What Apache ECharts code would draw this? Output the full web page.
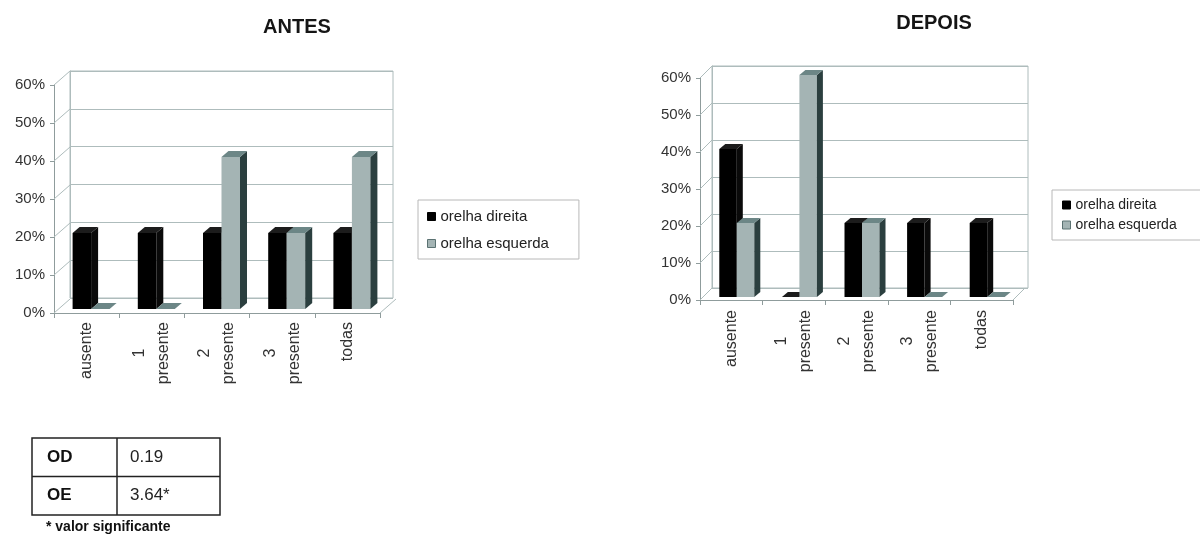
<!DOCTYPE html>
<html>
<head>
<meta charset="utf-8">
<script src="https://cdn.jsdelivr.net/npm/echarts@6/dist/echarts.min.js"></script>
<style>
  html, body { margin: 0; padding: 0; background: #ffffff; }
  #chart { width: 1200px; height: 534px; }
</style>
</head>
<body>
<div id="chart"></div>
<script>
// ---- data ----
const categories = ['ausente', '1\npresente', '2\npresente', '3\npresente', 'todas'];
const antesDireita = [20, 20, 20, 20, 20];
const antesEsquerda = [0, 0, 40, 20, 40];
const depoisDireita = [40, 0, 20, 20, 20];
const depoisEsquerda = [20, 60, 20, 0, 0];
const yTicks = [0, 10, 20, 30, 40, 50, 60];
const seriesNames = ['orelha direita', 'orelha esquerda'];
const tableRows = [['OD', '0.19'], ['OE', '3.64*']];
const tableNote = '* valor significante';

// ---- look ----
const FONT = '"Liberation Sans", Arial, Helvetica, sans-serif';
const GRID_COLOR = '#aebcbc';
const AXIS_COLOR = '#8f9c9c';
const faceColors = [
  { front: '#000000', side: '#0a0a0a', top: '#1c1c1c', border: '#000000' },
  { front: '#a4b4b4', side: '#2b3f3f', top: '#6c8686', border: '#5b7272' }
];

// Each panel: a front plane (labels, bars) and a back wall shifted up-right for the 3D look.
const panels = [
  {
    title: 'ANTES', titleX: 292, titleY: 12,
    front: { left: 54, top: 85, width: 326, height: 228 },
    back: { left: 70, top: 71, width: 323, height: 227 },
    bar: { ox: 4.5, oy: -4, w: 18.5, dx: 7, dy: -6 },
    values: [antesDireita, antesEsquerda],
    yFont: 15, xMargin: 9,
    legend: { left: 418, top: 200, gap: 12, padding: [9, 30, 8, 9], fontSize: 15 }
  },
  {
    title: 'DEPOIS', titleX: 929, titleY: 8,
    front: { left: 700, top: 78, width: 313, height: 222 },
    back: { left: 712, top: 66, width: 316, height: 222 },
    bar: { ox: 5.5, oy: -3, w: 17.5, dx: 6, dy: -5 },
    values: [depoisDireita, depoisEsquerda],
    yFont: 15, xMargin: 10,
    legend: { left: 1052, top: 190, gap: 6, padding: [8, 30, 8, 10], fontSize: 14 }
  }
];

function barRenderer(p, s) {
  return function (params, api) {
    const i = api.value(0);
    const v = api.value(1);
    const base = api.coord([i, 0]);
    const topPt = api.coord([i, v]);
    const b = p.bar;
    const x0 = base[0] + b.ox - (s === 0 ? b.w : 0);
    const x1 = x0 + b.w;
    const yb = base[1] + b.oy;
    const yt = topPt[1] + b.oy;
    const c = faceColors[s];
    const children = [];
    if (yb - yt > 0.5) {
      children.push({ type: 'rect', shape: { x: x0, y: yt, width: b.w, height: yb - yt }, style: { fill: c.front } });
      children.push({
        type: 'polygon',
        shape: { points: [[x1, yt], [x1 + b.dx, yt + b.dy], [x1 + b.dx, yb + b.dy], [x1, yb]] },
        style: { fill: c.side }
      });
    }
    children.push({
      type: 'polygon',
      shape: { points: [[x0, yt], [x0 + b.dx, yt + b.dy], [x1 + b.dx, yt + b.dy], [x1, yt]] },
      style: { fill: c.top }
    });
    return { type: 'group', children: children };
  };
}

// Side wall gridlines and the floor's right edge, joining front plane to back wall.
function wallRenderer(p) {
  const dx = p.back.left - p.front.left;
  const dy = p.back.top - p.front.top;
  return function (params, api) {
    const v = api.value(1);
    const pt = api.coord([0, v]);
    const bw = api.size([1, 0])[0];
    const xl = pt[0] - bw / 2;
    const children = [{
      type: 'line',
      shape: { x1: xl, y1: pt[1], x2: xl + dx, y2: pt[1] + dy },
      style: { stroke: GRID_COLOR, lineWidth: 1 }
    }];
    if (v === 0) {
      const xr = api.coord([categories.length - 1, 0])[0] + bw / 2;
      children.push({
        type: 'line',
        shape: { x1: xr, y1: pt[1], x2: xr + dx, y2: pt[1] + dy },
        style: { stroke: GRID_COLOR, lineWidth: 1 }
      });
    }
    return { type: 'group', children: children };
  };
}

function xLabelFormatter(val) {
  const parts = val.split('\n');
  if (parts.length === 1) return parts[0];
  return '{num|' + parts[0] + '}\n{word|' + parts[1] + '}';
}

const grids = [], xAxes = [], yAxes = [], series = [], legends = [], titles = [];

panels.forEach(function (p, k) {
  const backIdx = grids.length;
  grids.push(Object.assign({ show: true, borderColor: GRID_COLOR, borderWidth: 1, backgroundColor: 'transparent' }, p.back));
  const frontIdx = grids.length;
  grids.push(Object.assign({}, p.front));

  xAxes.push({ type: 'category', gridIndex: backIdx, data: categories, show: false });
  yAxes.push({
    type: 'value', gridIndex: backIdx, min: 0, max: 60, interval: 10,
    axisLabel: { show: false }, axisTick: { show: false },
    axisLine: { show: true, lineStyle: { color: GRID_COLOR } },
    splitLine: { show: true, lineStyle: { color: GRID_COLOR, width: 1 } }
  });

  xAxes.push({
    type: 'category', gridIndex: frontIdx, data: categories,
    axisLine: { show: true, lineStyle: { color: AXIS_COLOR } },
    axisTick: { show: true, length: 5, lineStyle: { color: AXIS_COLOR } },
    axisLabel: {
      interval: 0, rotate: 90, margin: p.xMargin, fontSize: 16, lineHeight: 24,
      color: '#333333', fontFamily: FONT, formatter: xLabelFormatter,
      rich: {
        num: { width: 62, align: 'center', fontSize: 16, lineHeight: 24, color: '#333333', fontFamily: FONT },
        word: { fontSize: 16, lineHeight: 24, color: '#333333', fontFamily: FONT }
      }
    }
  });
  yAxes.push({
    type: 'value', gridIndex: frontIdx, min: 0, max: 60, interval: 10,
    axisLine: { show: true, lineStyle: { color: AXIS_COLOR } },
    axisTick: { show: true, length: 4, lineStyle: { color: AXIS_COLOR } },
    splitLine: { show: false },
    axisLabel: { formatter: '{value}%', fontSize: p.yFont, color: '#333333', fontFamily: FONT, margin: 9 }
  });

  series.push({
    type: 'custom', xAxisIndex: frontIdx, yAxisIndex: frontIdx, silent: true, clip: false,
    renderItem: wallRenderer(p),
    data: yTicks.map(function (v) { return [0, v]; }),
    z: 1
  });
  p.values.forEach(function (vals, s) {
    series.push({
      type: 'custom', name: seriesNames[s], xAxisIndex: frontIdx, yAxisIndex: frontIdx,
      silent: true, clip: false,
      itemStyle: { color: faceColors[s].front },
      renderItem: barRenderer(p, s),
      data: vals.map(function (v, i) { return [i, v]; }),
      z: 3 + s
    });
  });

  titles.push({
    text: p.title, left: p.titleX, top: p.titleY, textAlign: 'center',
    textStyle: { fontSize: 20, fontWeight: 'bold', color: '#151515', fontFamily: FONT }
  });

  legends.push({
    orient: 'vertical', left: p.legend.left, top: p.legend.top,
    icon: 'rect', itemWidth: 8, itemHeight: 8, itemGap: p.legend.gap,
    padding: p.legend.padding, borderColor: '#b8b8b8', borderWidth: 1,
    selectedMode: false,
    textStyle: { fontSize: p.legend.fontSize, color: '#222222', fontFamily: FONT },
    data: seriesNames.map(function (n, s) {
      return { name: n, itemStyle: { color: faceColors[s].front, borderColor: faceColors[s].border, borderWidth: 1 } };
    })
  });
});

// ---- statistics table under the first chart ----
const table = { left: 32, top: 438, width: 188, colX: 117, rowH: 38.5, col1: 47, col2: 130 };
const graphics = [];
graphics.push({
  type: 'rect', shape: { x: table.left, y: table.top, width: table.width, height: table.rowH * tableRows.length },
  style: { fill: 'transparent', stroke: '#222222', lineWidth: 1.5 }
});
graphics.push({
  type: 'line', shape: { x1: table.colX, y1: table.top, x2: table.colX, y2: table.top + table.rowH * tableRows.length },
  style: { stroke: '#222222', lineWidth: 1.5 }
});
tableRows.forEach(function (row, r) {
  const cy = table.top + table.rowH * (r + 0.5);
  if (r > 0) {
    graphics.push({
      type: 'line', shape: { x1: table.left, y1: table.top + table.rowH * r, x2: table.left + table.width, y2: table.top + table.rowH * r },
      style: { stroke: '#222222', lineWidth: 1.5 }
    });
  }
  graphics.push({
    type: 'text', x: table.col1, y: cy,
    style: { text: row[0], font: 'bold 17px ' + FONT, fill: '#111111', verticalAlign: 'middle', align: 'left' }
  });
  graphics.push({
    type: 'text', x: table.col2, y: cy,
    style: { text: row[1], font: '17px ' + FONT, fill: '#222222', verticalAlign: 'middle', align: 'left' }
  });
});
graphics.push({
  type: 'text', x: 46, y: table.top + table.rowH * tableRows.length + 12,
  style: { text: tableNote, font: 'bold 14px ' + FONT, fill: '#111111', verticalAlign: 'middle', align: 'left' }
});

const chart = echarts.init(document.getElementById('chart'), null, { renderer: 'canvas' });
chart.setOption({
  animation: false,
  backgroundColor: '#ffffff',
  title: titles,
  legend: legends,
  grid: grids,
  xAxis: xAxes,
  yAxis: yAxes,
  series: series,
  graphic: graphics
});
</script>
</body>
</html>
